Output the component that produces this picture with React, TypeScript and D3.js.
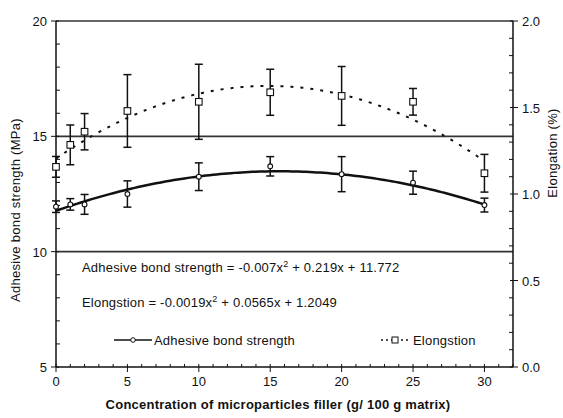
import React from 'react'
import * as d3 from 'd3'

const concentration = [0, 1, 2, 5, 10, 15, 20, 25, 30]
const bondStrength = [11.95, 12.05, 12.05, 12.5, 13.25, 13.7, 13.36, 12.99, 12.02]
const bondError = [0.25, 0.25, 0.43, 0.57, 0.6, 0.42, 0.76, 0.5, 0.3]
const elongation = [1.157, 1.284, 1.36, 1.48, 1.533, 1.588, 1.567, 1.533, 1.12]
const elongationError = [0.06, 0.115, 0.105, 0.21, 0.217, 0.133, 0.17, 0.077, 0.109]

// trend line coefficients printed on the chart: a*x^2 + b*x + c
const bondFit = [-0.007, 0.219, 11.772]
const elongationFit = [-0.0019, 0.0565, 1.2049]

const xTicks = [0, 5, 10, 15, 20, 25, 30]
const leftTicks = [5, 10, 15, 20]
const rightTicks = [0, 0.5, 1.0, 1.5, 2.0]

const W = 563
const H = 418
const FONT = '"Liberation Sans", Arial, sans-serif'
const INK = '#111'

export default function App() {
  const left = 56
  const right = 513
  const top = 21
  const bottom = 367

  const x = d3.scaleLinear().domain([0, 32]).range([left, right])
  const yL = d3.scaleLinear().domain([5, 20]).range([bottom, top])
  const yR = d3.scaleLinear().domain([0, 2]).range([bottom, top])

  const quad = (c: number[]) => (v: number) => c[0] * v * v + c[1] * v + c[2]
  const curveX = d3.range(0, 30.01, 0.25)
  const bondLine = d3.line<number>().x(v => x(v)).y(v => yL(quad(bondFit)(v)))
  const elongLine = d3.line<number>().x(v => x(v)).y(v => yR(quad(elongationFit)(v)))

  const xMinor = d3.range(0, 33, 1).filter(v => v % 5 !== 0)
  const leftMinor = d3.range(5, 20, 1).filter(v => v % 5 !== 0)
  const rightMinor = d3.range(0, 2.001, 0.1).filter(v => Math.abs(v * 2 - Math.round(v * 2)) > 0.01)

  const cap = 4
  const txt = { fontFamily: FONT, fontSize: 13, fill: INK }
  const wide = { ...txt, letterSpacing: 0.2 }

  return (
    <svg width={W} height={H} style={{ position: 'absolute', left: 0, top: 0, background: '#fff' }}>
      {/* frame lines */}
      <line x1={left} x2={right} y1={top} y2={top} stroke="#333" strokeWidth={1.6} />
      {[10, 15].map(v => (
        <line key={v} x1={left} x2={right} y1={yL(v)} y2={yL(v)} stroke="#333" strokeWidth={1.6} />
      ))}

      {/* axes */}
      <line x1={left} x2={left} y1={top} y2={bottom} stroke={INK} strokeWidth={1.5} />
      <line x1={right} x2={right} y1={top} y2={bottom} stroke={INK} strokeWidth={1.5} />
      <line x1={left} x2={right} y1={bottom} y2={bottom} stroke={INK} strokeWidth={1.5} />

      {xTicks.map(v => (
        <g key={v}>
          <line x1={x(v)} x2={x(v)} y1={bottom - 3} y2={bottom + 5} stroke={INK} />
          <text x={x(v)} y={bottom + 19} textAnchor="middle" style={txt}>{v}</text>
        </g>
      ))}
      {xMinor.map(v => (
        <line key={v} x1={x(v)} x2={x(v)} y1={bottom} y2={bottom - 3} stroke={INK} />
      ))}

      {leftTicks.map(v => (
        <g key={v}>
          <line x1={left - 5} x2={left + 3} y1={yL(v)} y2={yL(v)} stroke={INK} />
          <text x={left - 9} y={yL(v) + 5} textAnchor="end" style={txt}>{v}</text>
        </g>
      ))}
      {leftMinor.map(v => (
        <line key={v} x1={left} x2={left + 4} y1={yL(v)} y2={yL(v)} stroke={INK} />
      ))}

      {rightTicks.map(v => (
        <g key={v}>
          <line x1={right - 3} x2={right + 5} y1={yR(v)} y2={yR(v)} stroke={INK} />
          <text x={right + 9} y={yR(v) + 5} textAnchor="start" style={txt}>{v.toFixed(1)}</text>
        </g>
      ))}
      {rightMinor.map(v => (
        <line key={v} x1={right} x2={right - 4} y1={yR(v)} y2={yR(v)} stroke={INK} />
      ))}

      {/* axis titles */}
      <text x={278} y={409} textAnchor="middle" style={{ ...txt, fontWeight: 'bold', letterSpacing: 0.25 }}>
        Concentration of microparticles filler (g/ 100 g matrix)
      </text>
      <text transform={`translate(20,210) rotate(-90)`} textAnchor="middle" style={{ ...txt, letterSpacing: 0.3 }}>
        Adhesive bond strength (MPa)
      </text>
      <text transform={`translate(557,153) rotate(-90)`} textAnchor="middle" style={{ ...txt, letterSpacing: 0.3 }}>
        Elongation (%)
      </text>

      {/* trend lines */}
      <path d={bondLine(curveX) || ''} fill="none" stroke={INK} strokeWidth={2.5} />
      <path d={elongLine(curveX) || ''} fill="none" stroke={INK} strokeWidth={2} strokeDasharray="3,7" />

      {/* error bars */}
      {concentration.map((c, i) => {
        const cx = x(c)
        const a = yL(bondStrength[i] + bondError[i])
        const b = yL(bondStrength[i] - bondError[i])
        const e1 = yR(elongation[i] + elongationError[i])
        const e2 = yR(elongation[i] - elongationError[i])
        return (
          <g key={c} stroke={INK} strokeWidth={1.5}>
            <line x1={cx} x2={cx} y1={a} y2={b} />
            <line x1={cx - cap} x2={cx + cap} y1={a} y2={a} />
            <line x1={cx - cap} x2={cx + cap} y1={b} y2={b} />
            <line x1={cx} x2={cx} y1={e1} y2={e2} />
            <line x1={cx - cap} x2={cx + cap} y1={e1} y2={e1} />
            <line x1={cx - cap} x2={cx + cap} y1={e2} y2={e2} />
          </g>
        )
      })}

      {/* markers */}
      {concentration.map((c, i) => (
        <circle key={'b' + c} cx={x(c)} cy={yL(bondStrength[i])} r={2.4} fill="#fff" stroke={INK} strokeWidth={1.1} />
      ))}
      {concentration.map((c, i) => (
        <rect key={'e' + c} x={x(c) - 3.3} y={yR(elongation[i]) - 3.3} width={6.6} height={6.6} fill="#fff" stroke={INK} strokeWidth={1.1} />
      ))}

      {/* equations */}
      <text x={82} y={272} style={wide}>
        Adhesive bond strength = -0.007x<tspan dy={-5} fontSize={9}>2</tspan><tspan dy={5}> + 0.219x + 11.772</tspan>
      </text>
      <text x={82} y={307} style={wide}>
        Elongstion = -0.0019x<tspan dy={-5} fontSize={9}>2</tspan><tspan dy={5}> + 0.0565x + 1.2049</tspan>
      </text>

      {/* legend */}
      <line x1={114} x2={152} y1={340} y2={340} stroke={INK} strokeWidth={1.5} />
      <circle cx={133} cy={340} r={2.3} fill="#fff" stroke={INK} strokeWidth={1} />
      <text x={154} y={345} style={wide}>Adhesive bond strength</text>
      <line x1={381} x2={409} y1={340} y2={340} stroke={INK} strokeWidth={1.5} strokeDasharray="2,3" />
      <rect x={392} y={337} width={6} height={6} fill="#fff" stroke={INK} strokeWidth={1} />
      <text x={413} y={345} style={wide}>Elongstion</text>
    </svg>
  )
}
